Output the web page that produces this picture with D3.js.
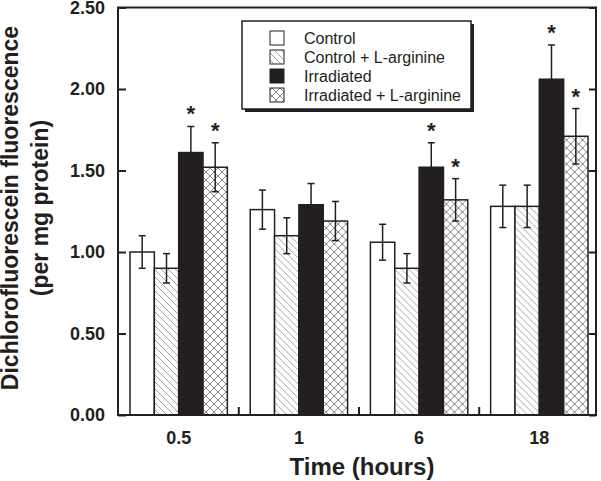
<!DOCTYPE html>
<html><head><meta charset="utf-8">
<script src="https://cdn.jsdelivr.net/npm/d3@7/dist/d3.min.js"></script>
<style>body{margin:0;background:#fff}svg{display:block}text{font-family:"Liberation Sans",Arial,sans-serif;fill:#231f20}</style>
</head><body>
<svg id="c" width="601" height="481"></svg>
<script>
const categories = ["0.5", "1", "6", "18"];
const seriesNames = ["Control", "Control + L-arginine", "Irradiated", "Irradiated + L-arginine"];
const control = [1.00, 1.26, 1.06, 1.28];
const controlErr = [0.10, 0.12, 0.11, 0.13];
const controlArg = [0.90, 1.10, 0.90, 1.28];
const controlArgErr = [0.09, 0.11, 0.09, 0.13];
const irradiated = [1.61, 1.29, 1.52, 2.06];
const irradiatedErr = [0.16, 0.13, 0.15, 0.21];
const irradiatedArg = [1.52, 1.19, 1.32, 1.71];
const irradiatedArgErr = [0.15, 0.12, 0.13, 0.17];
const significant = [[false,false,true,true],[false,false,false,false],[false,false,true,true],[false,false,true,true]];
const yTicks = [0, 0.5, 1.0, 1.5, 2.0, 2.5];

(function(){
const values = [control, controlArg, irradiated, irradiatedArg];
const errs = [controlErr, controlArgErr, irradiatedErr, irradiatedArgErr];
const fills = ["#fff", "url(#hatch)", "#231f20", "url(#cross)"];
const ink = "#231f20";

const svg = d3.select("#c");
const defs = svg.append("defs");
const h = defs.append("pattern").attr("id","hatch").attr("patternUnits","userSpaceOnUse").attr("width",7).attr("height",7);
h.append("rect").attr("width",7).attr("height",7).attr("fill","#fff");
h.append("path").attr("d","M-1,-1L8,8M-1,6L1,8M6,-1L8,1").attr("stroke","#9a9a9a").attr("stroke-width",0.9);
const c = defs.append("pattern").attr("id","cross").attr("patternUnits","userSpaceOnUse").attr("width",8).attr("height",8);
c.append("rect").attr("width",8).attr("height",8).attr("fill","#fff");
c.append("path").attr("d","M0,0L8,8M8,0L0,8").attr("stroke","#7a7a7a").attr("stroke-width",0.9);

const pLeft = 118, pRight = 596, pTop = 7.5, pBottom = 415;
const y = d3.scaleLinear().domain([0, 2.5]).range([pBottom, pTop]);
const x = d3.scaleBand().domain(categories).range([130, 588]).paddingInner(0.19).paddingOuter(0);
const x1 = d3.scaleBand().domain(d3.range(4)).range([0, x.bandwidth()]);

const groups = svg.append("g").selectAll("g").data(categories).join("g")
  .attr("transform", d => `translate(${x(d)},0)`);
groups.each(function(cat, ci){
  const g = d3.select(this);
  for (let s = 0; s < 4; s++) {
    const v = values[s][ci], e = errs[s][ci];
    const bx = x1(s), bw = x1.bandwidth(), cx = bx + bw/2;
    g.append("rect").attr("x", bx).attr("y", y(v)).attr("width", bw).attr("height", pBottom - y(v))
      .attr("fill", fills[s]).attr("stroke", ink).attr("stroke-width", 1.5);
    const eb = g.append("g").attr("stroke", ink).attr("stroke-width", 1.5).attr("fill","none");
    eb.append("line").attr("x1",cx).attr("x2",cx).attr("y1",y(v+e)).attr("y2",y(v-e));
    eb.append("line").attr("x1",cx-3.5).attr("x2",cx+3.5).attr("y1",y(v+e)).attr("y2",y(v+e));
    eb.append("line").attr("x1",cx-3.5).attr("x2",cx+3.5).attr("y1",y(v-e)).attr("y2",y(v-e));
    if (significant[ci][s]) {
      g.append("text").attr("x", cx).attr("y", y(v+e) - 5).attr("text-anchor","middle")
        .attr("font-size", 22).attr("font-weight","bold").text("*");
    }
  }
});

svg.append("rect").attr("x", pLeft).attr("y", pTop).attr("width", pRight-pLeft).attr("height", pBottom-pTop)
  .attr("fill","none").attr("stroke", ink).attr("stroke-width", 2);

const yAxisL = svg.append("g").attr("transform", `translate(${pLeft},0)`)
  .call(d3.axisRight(y).tickValues(yTicks).tickSize(8).tickFormat(""));
yAxisL.select(".domain").remove();
yAxisL.selectAll("line").attr("stroke", ink).attr("stroke-width", 2);
svg.append("g").selectAll("text").data(yTicks).join("text")
  .attr("x", 105).attr("y", d => y(d)).attr("dy","0.36em").attr("text-anchor","end")
  .attr("font-size", 18).attr("font-weight","bold").text(d3.format(".2f"));

const yAxisR = svg.append("g").attr("transform", `translate(${pRight},0)`)
  .call(d3.axisLeft(y).tickValues(yTicks).tickSize(7).tickFormat(""));
yAxisR.select(".domain").remove();
yAxisR.selectAll("line").attr("stroke", ink).attr("stroke-width", 2);

const bounds = categories.slice(1).map(d => x(d) - x.step()*x.paddingInner()/2);
svg.append("g").selectAll("line").data(bounds).join("line")
  .attr("x1", d=>d).attr("x2", d=>d).attr("y1", pBottom).attr("y2", pBottom-8)
  .attr("stroke", ink).attr("stroke-width", 2);
svg.append("g").selectAll("text").data(categories).join("text")
  .attr("x", d => x(d) + x.bandwidth()/2).attr("y", 444).attr("text-anchor","middle")
  .attr("font-size", 18).attr("font-weight","bold").text(d => d);

svg.append("text").attr("x", 362).attr("y", 475).attr("text-anchor","middle")
  .attr("font-size", 24).attr("font-weight","bold").text("Time (hours)");
const yt = svg.append("text").attr("transform","translate(0,208) rotate(-90)").attr("text-anchor","middle")
  .attr("font-size", 23).attr("font-weight","bold");
yt.append("tspan").attr("x",0).attr("y",18).text("Dichlorofluorescein fluorescence");
yt.append("tspan").attr("x",0).attr("y",48).text("(per mg protein)");

const lg = svg.append("g");
lg.append("rect").attr("x", 245).attr("y", 24).attr("width", 229).attr("height", 88).attr("fill", ink);
lg.append("rect").attr("x", 242).attr("y", 21).attr("width", 229).attr("height", 88)
  .attr("fill","#fff").attr("stroke", ink).attr("stroke-width", 1.5);
const rows = [38, 57, 76, 95];
seriesNames.forEach((n, i) => {
  lg.append("rect").attr("x", 270).attr("y", rows[i]-7).attr("width", 14).attr("height", 14)
    .attr("fill", fills[i]).attr("stroke", ink).attr("stroke-width", 1);
  lg.append("text").attr("x", 304).attr("y", rows[i]).attr("dy","0.36em").attr("font-size", 16).text(n);
});
})();
</script>
</body></html>
